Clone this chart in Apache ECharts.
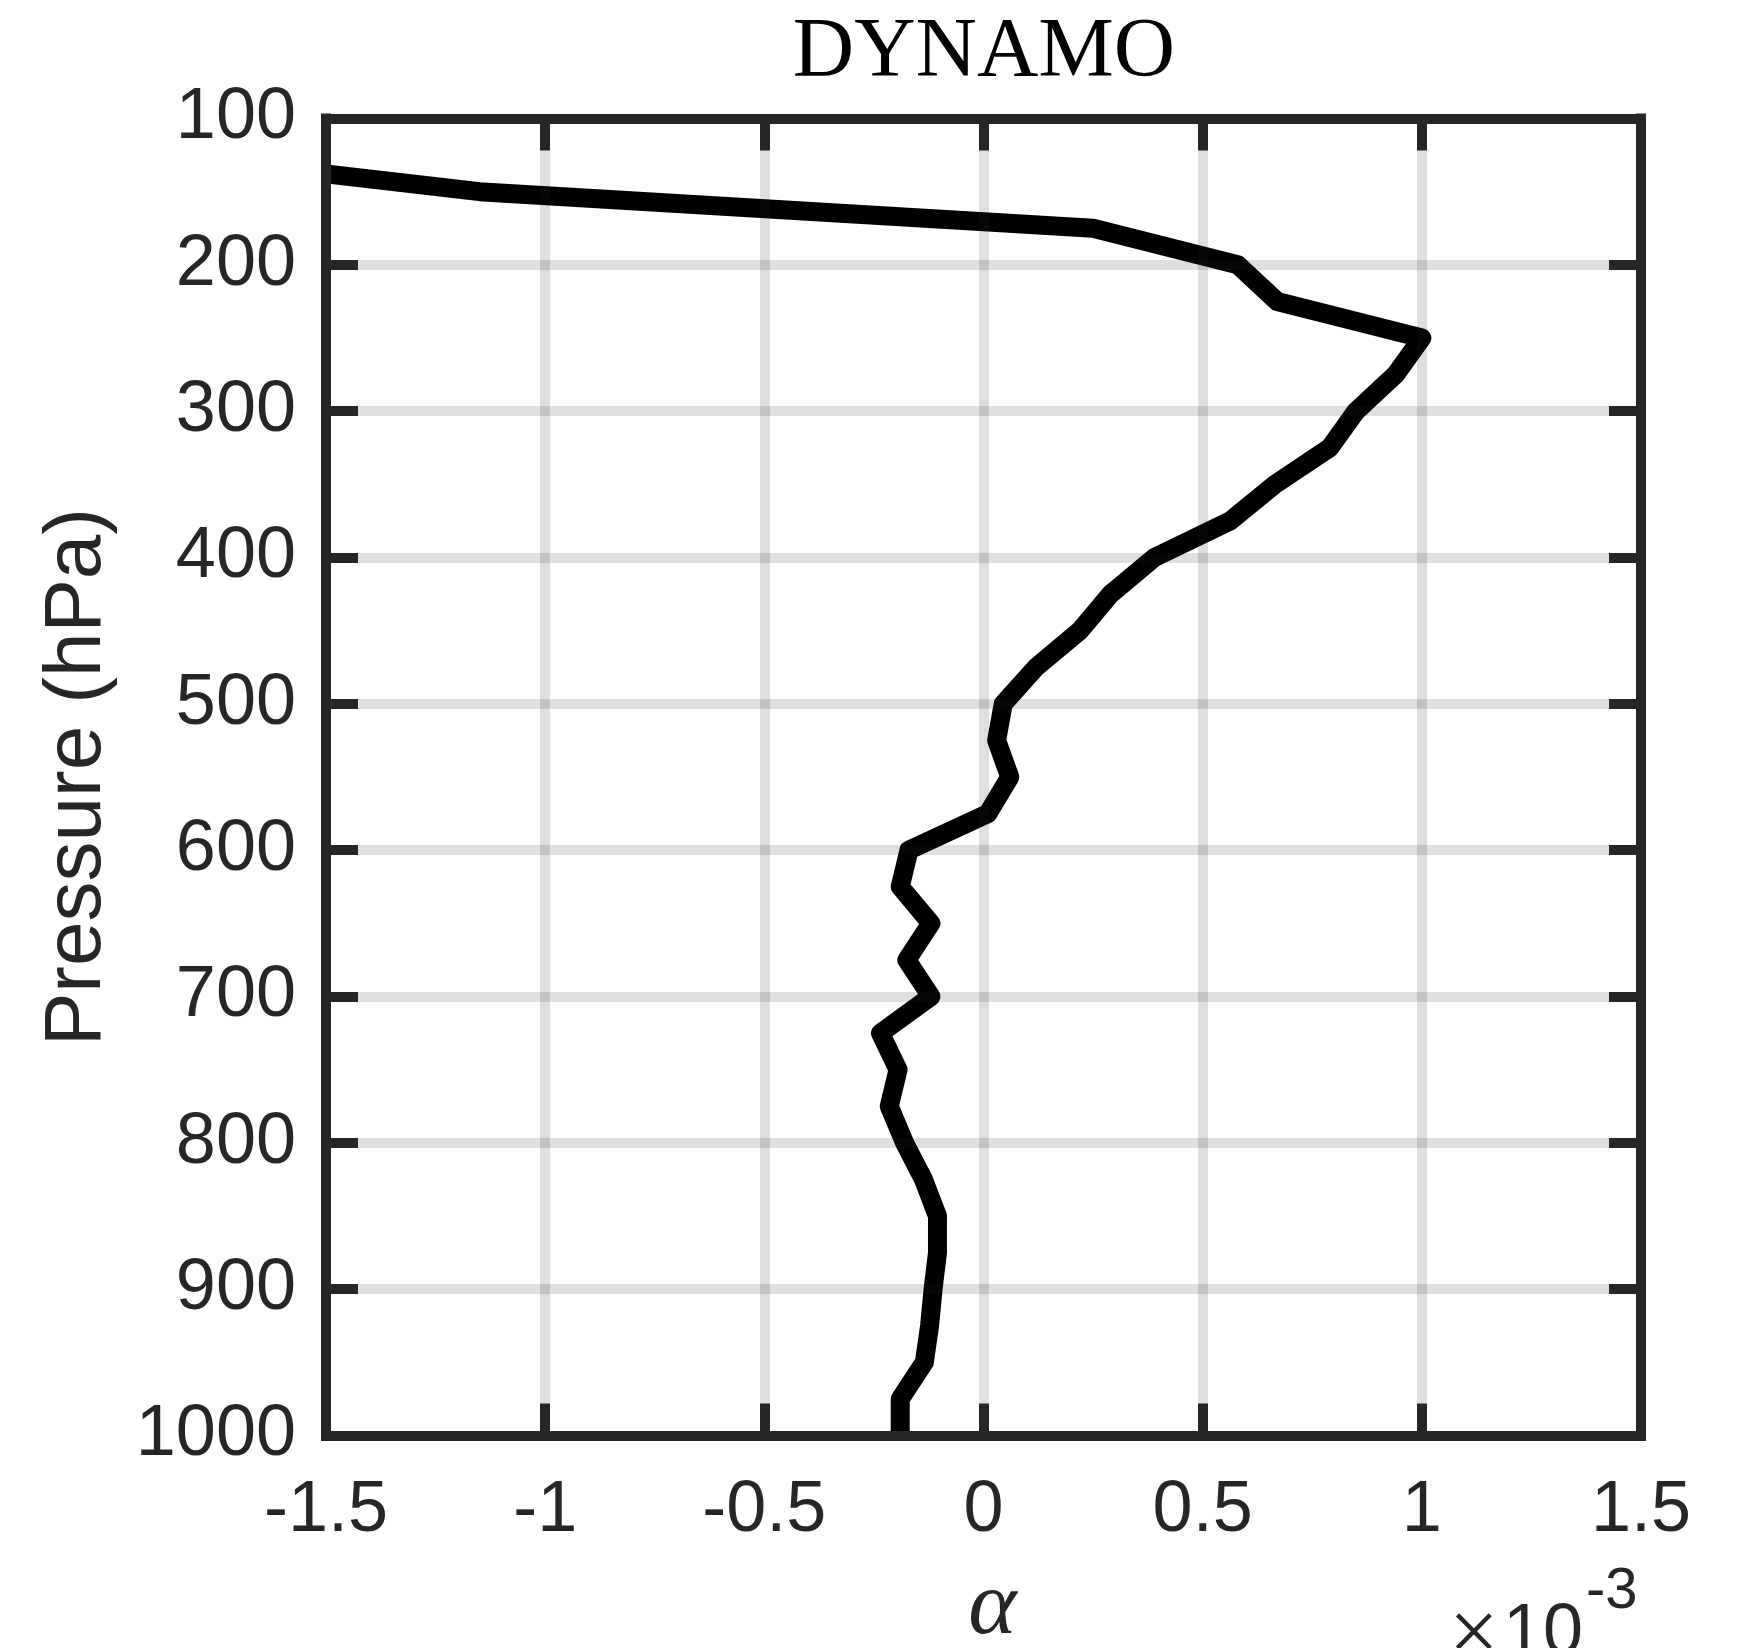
<!DOCTYPE html>
<html>
<head>
<meta charset="utf-8">
<script src="https://cdn.jsdelivr.net/npm/echarts@6/dist/echarts.min.js"></script>
<style>
  html, body { margin: 0; padding: 0; background: #fff; }
  #chart { width: 1737px; height: 1648px; }
</style>
</head>
<body>
<div id="chart"></div>
<script>
// pressure levels (hPa) and alpha profile, alpha in units of 1e-3
const pressureLevels = [125, 150, 175, 200, 225, 250, 275, 300, 325, 350, 375, 400,
  425, 450, 475, 500, 525, 550, 575, 600, 625, 650, 675, 700, 725, 750, 775, 800,
  825, 850, 875, 900, 925, 950, 975, 1000]
const alphaValues = [-1.87, -1.15, 0.25, 0.58, 0.67, 1.00, 0.94, 0.85, 0.79, 0.665, 0.563, 0.39,
  0.29, 0.22, 0.12, 0.045, 0.03, 0.06, 0.01, -0.17, -0.19, -0.12, -0.175, -0.12, -0.235, -0.195,
  -0.215, -0.18, -0.137, -0.105, -0.105, -0.115, -0.123, -0.135, -0.19, -0.19]
const xTicks = { min: -1.5, max: 1.5, step: 0.5 }
const yTicks = { min: 100, max: 1000, step: 100 }

const axisColor = '#262626'
const tickFont = 'Liberation Sans'

const chart = echarts.init(document.getElementById('chart'))

const frameAxis = (extra) => Object.assign({
  type: 'value',
  z: 5,
  axisLine: { show: true, onZero: false, lineStyle: { color: axisColor, width: 10, cap: 'square' } },
  axisTick: { show: true, inside: true, length: 32, lineStyle: { color: axisColor, width: 10 } },
  splitLine: { show: false }
}, extra)

const gridLine = { show: true, lineStyle: { color: 'rgba(38,38,38,0.15)', width: 10 } }

chart.setOption({
  animation: false,
  backgroundColor: '#fff',
  title: {
    text: 'DYNAMO',
    left: 979,
    top: 6,
    textAlign: 'center',
    textStyle: { fontFamily: 'Liberation Serif', fontWeight: 'normal', fontSize: 85, color: '#000' }
  },
  grid: { left: 326, top: 118.5, right: 96, bottom: 212.5, containLabel: false, outerBoundsMode: 'none' },
  xAxis: [
    frameAxis({
      position: 'bottom',
      min: xTicks.min, max: xTicks.max, interval: xTicks.step,
      name: 'α',
      nameLocation: 'middle',
      nameGap: 127,
      nameTextStyle: { fontFamily: 'Liberation Serif', fontStyle: 'italic', fontSize: 92, color: axisColor, padding: [0, 0, 0, 18] },
      axisLabel: { color: axisColor, fontSize: 72, fontFamily: tickFont, margin: 40 },
      splitLine: gridLine
    }),
    frameAxis({
      position: 'top',
      min: xTicks.min, max: xTicks.max, interval: xTicks.step,
      axisLabel: { show: false }
    })
  ],
  yAxis: [
    frameAxis({
      position: 'left',
      inverse: true,
      min: yTicks.min, max: yTicks.max, interval: yTicks.step,
      name: 'Pressure (hPa)',
      nameLocation: 'middle',
      nameRotate: 90,
      nameGap: 208,
      nameTextStyle: { fontFamily: tickFont, fontSize: 80, color: axisColor },
      axisLabel: { color: axisColor, fontSize: 72, fontFamily: tickFont, margin: 30, formatter: (v) => String(v) },
      splitLine: gridLine
    }),
    frameAxis({
      position: 'right',
      inverse: true,
      min: yTicks.min, max: yTicks.max, interval: yTicks.step,
      axisLabel: { show: false }
    })
  ],
  series: [{
    type: 'line',
    z: 2,
    xAxisIndex: 0,
    yAxisIndex: 0,
    data: pressureLevels.map((p, i) => [alphaValues[i], p]),
    showSymbol: false,
    symbol: 'none',
    clip: true,
    lineStyle: { color: '#000', width: 19, join: 'round', cap: 'butt' }
  }],
  graphic: [
    // mask the part of the stroke that the clip margin lets past the left frame
    { type: 'rect', z: 4, shape: { x: 290, y: 125, width: 31, height: 80 }, style: { fill: '#fff' } },
    { type: 'text', left: 1449, top: 1594, style: { text: '×', fontSize: 88, fontFamily: 'Liberation Serif', fill: axisColor } },
    { type: 'text', left: 1503, top: 1598, style: { text: '10', fontSize: 72, fontFamily: tickFont, fill: axisColor } },
    { type: 'text', left: 1586, top: 1563, style: { text: '-3', fontSize: 58, fontFamily: tickFont, fill: axisColor } }
  ]
})
</script>
</body>
</html>
